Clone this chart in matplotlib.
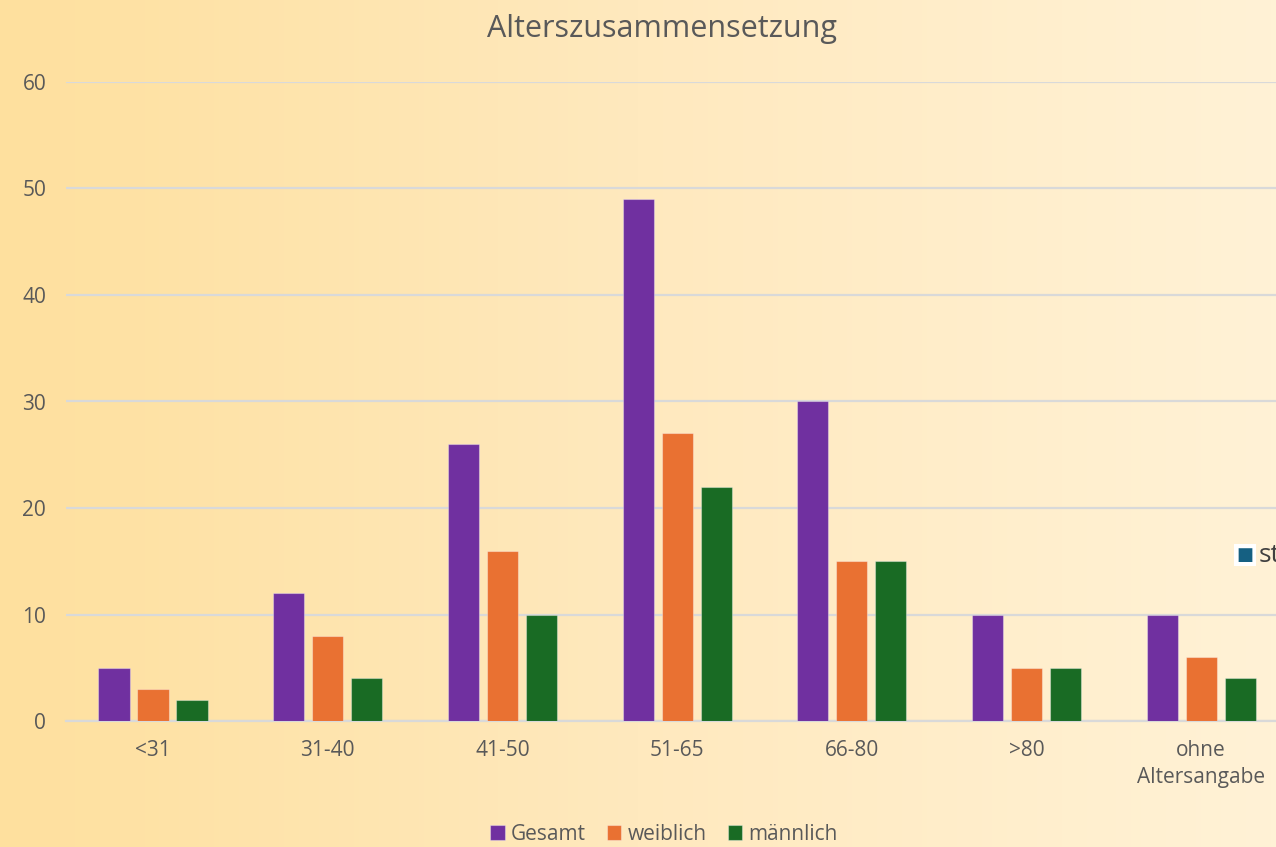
import numpy as np
import matplotlib.pyplot as plt
from matplotlib.colors import LinearSegmentedColormap

plt.rcParams['font.family'] = ['Open Sans', 'DejaVu Sans']

# Data
categories = ['<31', '31-40', '41-50', '51-65', '66-80', '>80', 'ohne\nAltersangabe']
gesamt = [5, 12, 26, 49, 30, 10, 10]
weiblich = [3, 8, 16, 27, 15, 5, 6]
maennlich = [2, 4, 10, 22, 15, 5, 4]
series_names = ['Gesamt', 'weiblich', 'männlich']
colors = ['#7030A0', '#E97132', '#196B24']

W, H = 1276, 847
fig = plt.figure(figsize=(W / 100, H / 100), dpi=100)

# Background gradient (orange left -> cream right)
bg = fig.add_axes([0, 0, 1, 1], zorder=-10)
grad = LinearSegmentedColormap.from_list('bg', ['#FEE09E', '#FFE9BE', '#FFF2D6'])
bg.imshow(np.linspace(0, 1, 256)[None, :], aspect='auto', cmap=grad, extent=[0, 1, 0, 1])
bg.axis('off')

# Plot area: categories are ~174.7 px apart, first centre at x=153; extends past right edge
step_px = 174.7
left_px = 153 - step_px / 2
y0_px, y60_px = 721, 82
ax = fig.add_axes([left_px / W, 1 - y0_px / H, 7 * step_px / W, (y0_px - y60_px) / H])
ax.patch.set_alpha(0)

x = np.arange(len(categories))
off = 0.223
bw = 0.178
for i, (vals, name, c) in enumerate(zip([gesamt, weiblich, maennlich], series_names, colors)):
    ax.bar(x + (i - 1) * off, vals, width=bw, color=c, label=name, zorder=3,
           edgecolor=(1, 1, 1, 0.35), linewidth=0.8)

ax.set_xlim(-0.5, len(categories) - 0.5)
ax.set_ylim(0, 60)
ax.set_yticks(range(0, 61, 10))
ax.grid(axis='y', color='#D9D9D9', linewidth=1.6, zorder=0)
ax.set_axisbelow(True)
for s in ['top', 'right', 'left']:
    ax.spines[s].set_visible(False)
ax.spines['bottom'].set_color('#D9D9D9')
ax.spines['bottom'].set_linewidth(1.6)
ax.set_xticks(x)
ax.set_xticklabels(categories, linespacing=1.35)
ax.tick_params(axis='both', length=0, labelsize=15, colors='#595959')
ax.tick_params(axis='x', pad=14)
ax.tick_params(axis='y', pad=14)

fig.text(662 / W, 1 - 29 / H, 'Alterszusammensetzung', ha='center', va='center',
         fontsize=22, color='#595959')

fig.legend(loc='center', bbox_to_anchor=(664 / W, 1 - 834 / H), ncol=3, frameon=False,
           fontsize=15, labelcolor='#595959', handlelength=0.7, handleheight=0.7,
           handletextpad=0.3, columnspacing=1.0)

# Cut-off legend entry of a neighbouring chart at the right edge
fig.text(1245 / W, 1 - 555 / H, '■', ha='center', va='center', fontsize=13, color='#156082',
         family=['DejaVu Sans'],
         bbox=dict(boxstyle='square,pad=0.12', fc='white', ec='none'))
fig.text(1259 / W, 1 - 555 / H, 'st', ha='left', va='center', fontsize=19, color='#404040')

fig.savefig('out.png', dpi=100)
